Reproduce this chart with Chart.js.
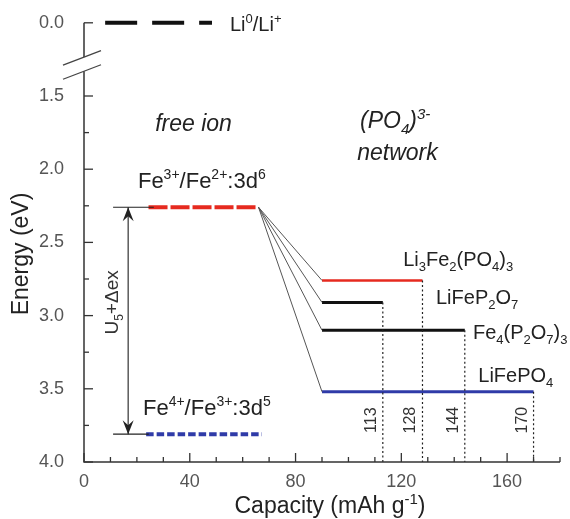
<!DOCTYPE html>
<html><head><meta charset="utf-8">
<script src="https://cdn.jsdelivr.net/npm/chart.js@4.4.1/dist/chart.umd.min.js"></script>
<style>html,body{margin:0;padding:0;background:#fff}canvas{display:block}</style>
</head><body>
<canvas id="c" width="570" height="519"></canvas>
<script>
// ---------------- data ----------------
const xTickValues = [0, 40, 80, 120, 160];
const yTickEnergies = [0.0, 1.5, 2.0, 2.5, 3.0, 3.5, 4.0];
const yTickLabels = ['0.0', '1.5', '2.0', '2.5', '3.0', '3.5', '4.0'];
const yMinorEnergies = [1.75, 2.25, 2.75, 3.25, 3.75];

const liEnergy = 0.0;
const liRange = [8, 48.4];
const fe32Energy = 2.26;
const fe32Range = [24.4, 66];
const fe43Energy = 3.81;
const fe43Range = [23.5, 67.3];
const refLineStart = 11;
const arrowX = 16.7;

const cathodeNames = ['Li_{3}Fe_{2}(PO_{4})_{3}', 'LiFeP_{2}O_{7}', 'Fe_{4}(P_{2}O_{7})_{3}', 'LiFePO_{4}'];
const cathodeEnergy = [2.76, 2.91, 3.10, 3.52];
const cathodeCapacity = [128, 113, 144, 170];
const cathodeStart = 90;

// broken axis: energies >= 1.5 map 1:1, the Li level (0.0) is placed at axis value 1.0
const toAxis = e => (e >= 1.5 ? e : 1.0 + e / 3);

// ---------------- styles ----------------
const RED = '#e62a1f', BLUE = '#2f3ba8', BLACK = '#111', GREY = '#555';
const cathodeColors = [RED, BLACK, BLACK, BLUE];
const cathodeWidths = [2.5, 3, 3, 3];
const FONT = '"Liberation Sans", Arial, sans-serif';

const seg = (x1, e1, x2, e2) => [{x: x1, y: toAxis(e1)}, {x: x2, y: toAxis(e2)}];
const ds = (data, color, width, dash) => ({data, showLine: true, borderColor: color, borderWidth: width,
  borderDash: dash || [], pointRadius: 0, pointHoverRadius: 0, clip: false, borderCapStyle: 'butt', tension: 0});

const datasets = [];
// dotted capacity markers
cathodeCapacity.forEach((c, i) => datasets.push(ds(seg(c, cathodeEnergy[i], c, 4.0), '#222', 1.2, [2, 2.5])));
// connectors
cathodeEnergy.forEach(e => datasets.push(ds(seg(fe32Range[1], fe32Energy, cathodeStart, e), GREY, 1)));
// cathode levels
cathodeEnergy.forEach((e, i) => datasets.push(ds(seg(cathodeStart, e, cathodeCapacity[i], e), cathodeColors[i], cathodeWidths[i])));
// free-ion levels
datasets.push(ds(seg(liRange[0], liEnergy, liRange[1], liEnergy), BLACK, 4, [32, 15]));
datasets.push(ds(seg(refLineStart, fe32Energy, fe32Range[0] + 2, fe32Energy), '#222', 1.2));
datasets.push(ds(seg(refLineStart, fe43Energy, fe43Range[0] + 1, fe43Energy), '#222', 1.2));
datasets.push(ds(seg(fe32Range[0], fe32Energy, fe32Range[1], fe32Energy), RED, 4, [19, 3]));
datasets.push(ds(seg(fe43Range[0], fe43Energy, fe43Range[1], fe43Energy), BLUE, 4, [7.5, 3]));
// U + dex arrow shaft
datasets.push(ds(seg(arrowX, fe32Energy, arrowX, fe43Energy), '#333', 1.2));

// ---------------- text annotations ----------------
const textLabels = [
  {t: 'Li^{0}/Li^{+}', x: 55.2, e: liEnergy, dy: 8, size: 20},
  {t: 'free ion', x: 26.9, e: 1.737, size: 23, italic: true},
  {t: '(PO_{4})^{3-}', x: 104.4, e: 1.721, size: 23, italic: true},
  {t: 'network', x: 103.3, e: 1.934, size: 23, italic: true},
  {t: 'Fe^{3+}/Fe^{2+}:3d^{6}', x: 20.4, e: 2.127, size: 22},
  {t: 'Fe^{4+}/Fe^{3+}:3d^{5}', x: 22.3, e: 3.68, size: 22}
];
const cathodeLabelPos = [{x: 120.7, e: 2.66}, {x: 133.1, e: 2.92}, {x: 147.1, e: 3.163}, {x: 149.1, e: 3.454}];

function parseRich(s) {
  const out = []; let buf = ''; let i = 0;
  while (i < s.length) {
    const c = s[i];
    if ((c === '^' || c === '_') && s[i + 1] === '{') {
      if (buf) { out.push({t: buf, m: 'n'}); buf = ''; }
      const j = s.indexOf('}', i);
      out.push({t: s.slice(i + 2, j), m: c === '^' ? 'sup' : 'sub'});
      i = j + 1;
    } else { buf += c; i++; }
  }
  if (buf) out.push({t: buf, m: 'n'});
  return out;
}
function drawRich(ctx, s, x, y, o) {
  const size = o.size || 20, italic = o.italic ? 'italic ' : '';
  const parts = parseRich(s);
  const fontFor = m => italic + (m === 'n' ? size : Math.round(size * 0.65)) + 'px ' + FONT;
  let total = 0;
  parts.forEach(p => { ctx.font = fontFor(p.m); p.w = ctx.measureText(p.t).width; total += p.w; });
  ctx.save();
  ctx.translate(x, y);
  if (o.rotate) ctx.rotate(o.rotate);
  ctx.fillStyle = o.color || '#222';
  ctx.textBaseline = 'alphabetic';
  ctx.textAlign = 'left';
  let cx = o.align === 'center' ? -total / 2 : 0;
  parts.forEach(p => {
    ctx.font = fontFor(p.m);
    const dy = p.m === 'sup' ? -0.4 * size : (p.m === 'sub' ? 0.24 * size : 0);
    ctx.fillText(p.t, cx, dy);
    cx += p.w;
  });
  ctx.restore();
}

const overlay = {
  id: 'overlay',
  afterDraw(chart) {
    const ctx = chart.ctx, xs = chart.scales.x, ys = chart.scales.y, a = chart.chartArea;
    const X = v => xs.getPixelForValue(v), Y = e => ys.getPixelForValue(toAxis(e));
    ctx.save();
    // axes
    ctx.strokeStyle = '#333'; ctx.lineWidth = 1.5; ctx.setLineDash([]);
    ctx.beginPath(); ctx.moveTo(a.left, a.top); ctx.lineTo(a.left, a.bottom); ctx.lineTo(a.right, a.bottom); ctx.stroke();
    // y ticks (inward)
    ctx.lineWidth = 1.3;
    yTickEnergies.forEach(e => { const p = Y(e); ctx.beginPath(); ctx.moveTo(a.left, p); ctx.lineTo(a.left + 9, p); ctx.stroke(); });
    yMinorEnergies.forEach(e => { const p = Y(e); ctx.beginPath(); ctx.moveTo(a.left, p); ctx.lineTo(a.left + 5, p); ctx.stroke(); });
    // x ticks (inward)
    for (let v = 0; v <= xs.max + 0.01; v += 10) {
      const major = xTickValues.includes(v);
      const p = X(v);
      ctx.beginPath(); ctx.moveTo(p, a.bottom); ctx.lineTo(p, a.bottom - (major ? 9 : 5)); ctx.stroke();
    }
    // axis break
    const b1 = ys.getPixelForValue(1.234), b2 = ys.getPixelForValue(1.331);
    ctx.fillStyle = '#fff'; ctx.fillRect(a.left - 3, b1, 6, b2 - b1);
    ctx.strokeStyle = '#444'; ctx.lineWidth = 1.3;
    [b1, b2].forEach(b => { ctx.beginPath(); ctx.moveTo(a.left - 21, b + 8); ctx.lineTo(a.left + 17, b - 6.5); ctx.stroke(); });
    // arrow heads
    ctx.fillStyle = '#222';
    const ax = X(arrowX);
    const head = (tip, dir) => { ctx.beginPath(); ctx.moveTo(ax, tip); ctx.lineTo(ax - 5.5, tip - dir * 14); ctx.lineTo(ax, tip - dir * 9); ctx.lineTo(ax + 5.5, tip - dir * 14); ctx.closePath(); ctx.fill(); };
    head(Y(fe32Energy), -1);
    head(Y(fe43Energy), 1);
    ctx.restore();

    // texts
    textLabels.forEach(l => drawRich(ctx, l.t, X(l.x), Y(l.e) + (l.dy || 0), l));
    cathodeNames.forEach((n, i) => drawRich(ctx, n, X(cathodeLabelPos[i].x), Y(cathodeLabelPos[i].e), {size: 20}));
    cathodeCapacity.forEach(c => drawRich(ctx, String(c), X(c) - 7, Y(3.714), {size: 16, align: 'center', rotate: -Math.PI / 2, color: '#333'}));
    drawRich(ctx, 'U_{5}+\u0394ex', ax - 10, Y(2.91), {size: 19, align: 'center', rotate: -Math.PI / 2, color: '#333'});
    // axis titles
    drawRich(ctx, 'Energy (eV)', 28, 254, {size: 23, align: 'center', rotate: -Math.PI / 2});
    drawRich(ctx, 'Capacity (mAh g^{-1})', 330, 513, {size: 23, align: 'center'});
  }
};

new Chart(document.getElementById('c'), {
  type: 'scatter',
  data: {datasets},
  options: {
    responsive: false, animation: false, devicePixelRatio: 1,
    layout: {padding: {top: 21, right: 10, left: 0, bottom: 0}},
    plugins: {legend: {display: false}, tooltip: {enabled: false}},
    scales: {
      x: {
        type: 'linear', min: 0, max: 180,
        grid: {display: false}, border: {display: false},
        afterBuildTicks: s => { s.ticks = xTickValues.map(v => ({value: v})); },
        afterFit: s => { s.height = 57; },
        ticks: {autoSkip: false, maxRotation: 0, padding: 1, color: '#555', font: {family: FONT, size: 18}}
      },
      y: {
        type: 'linear', reverse: true, min: 1.0, max: 4.0,
        grid: {display: false}, border: {display: false},
        afterBuildTicks: s => { s.ticks = yTickEnergies.map(e => ({value: toAxis(e)})); },
        afterFit: s => { s.width = 84; },
        ticks: {autoSkip: false, padding: 12, color: '#555', font: {family: FONT, size: 18},
          callback: (v, i) => yTickLabels[i]}
      }
    }
  },
  plugins: [overlay]
});
</script>
</body></html>
